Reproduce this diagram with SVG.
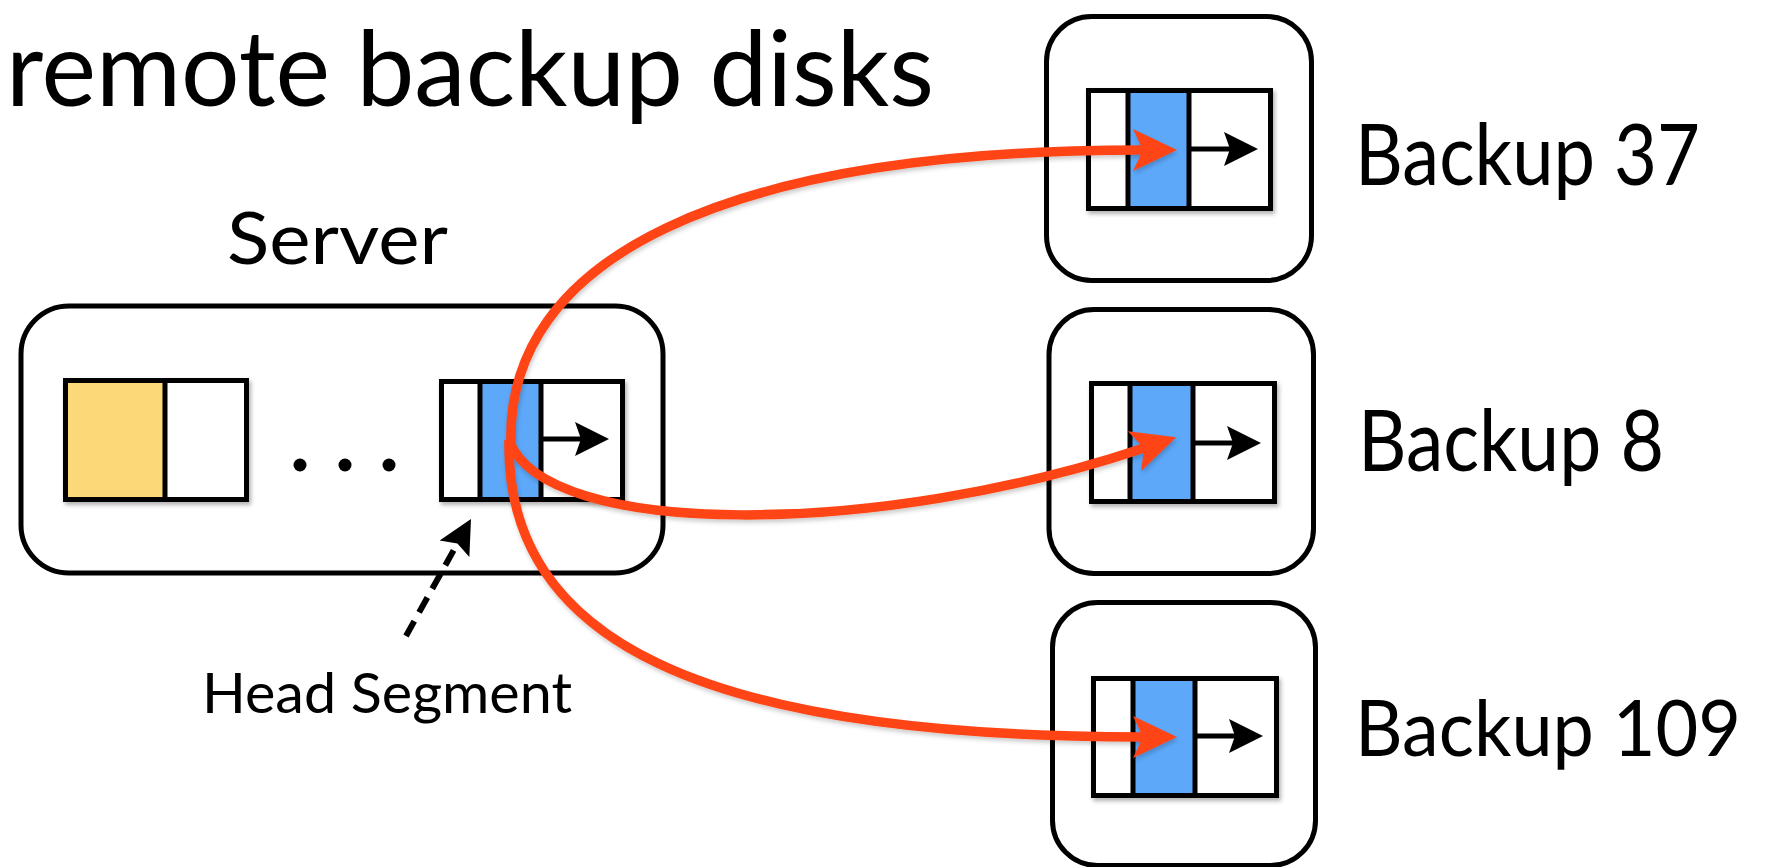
<svg xmlns="http://www.w3.org/2000/svg" width="1771" height="867" viewBox="0 0 1771 867">
  <style>
    .txt { font-family: Lato, "Open Sans", "Liberation Sans", sans-serif; fill: #000; }
    .box { fill: #fff; stroke: #000; stroke-width: 5; }
    .seg { fill: #fff; stroke: #000; stroke-width: 5; }
    .div { stroke: #000; stroke-width: 5; }
    .blue { fill: #5DA8F9; }
    .yellow { fill: #FDD879; }
    .ptr { stroke: #000; stroke-width: 5; fill: none; }
    .red { stroke: #FF4416; stroke-width: 9.5; fill: none; }
    .dash { stroke: #000; stroke-width: 6; fill: none; stroke-dasharray: 17 10; }
  </style>
  <defs>
    <filter id="sh" x="-10%" y="-10%" width="125%" height="130%">
      <feDropShadow dx="2" dy="3" stdDeviation="2" flood-color="#000" flood-opacity="0.3"/>
    </filter>
    <filter id="shr" x="-10%" y="-10%" width="125%" height="130%">
      <feDropShadow dx="1" dy="3" stdDeviation="2" flood-color="#000" flood-opacity="0.2"/>
    </filter>
    <marker id="redhead" markerUnits="userSpaceOnUse" viewBox="-2 -23 48 46" markerWidth="48" markerHeight="46" refX="10" refY="0" orient="auto">
      <path d="M0,-21 L44,0 L0,21 L10,0 Z" fill="#FF4416"/>
    </marker>
    <marker id="blackhead" markerUnits="userSpaceOnUse" viewBox="-2 -19 40 38" markerWidth="40" markerHeight="38" refX="6" refY="0" orient="auto">
      <path d="M0,-17 L34,0 L0,17 L6,0 Z" fill="#000"/>
    </marker>
  </defs>

  <rect width="1771" height="867" fill="#fff"/>

  <text id="title" class="txt" x="6" y="106" font-size="105" textLength="928" lengthAdjust="spacingAndGlyphs">remote backup disks</text>

  <g id="server">
    <text class="txt" x="227" y="264" font-size="71" textLength="221" lengthAdjust="spacingAndGlyphs">Server</text>
    <rect class="box" x="21" y="306" width="642" height="267" rx="48"/>
    <g filter="url(#sh)">
      <rect class="seg" x="65.5" y="380.5" width="181" height="119"/>
      <rect class="yellow" x="65.5" y="380.5" width="99.5" height="119"/>
      <rect x="65.5" y="380.5" width="181" height="119" fill="none" stroke="#000" stroke-width="5"/>
      <line class="div" x1="165" y1="380.5" x2="165" y2="499.5"/>
    </g>
    <circle cx="300" cy="465" r="6.5" fill="#000"/>
    <circle cx="345" cy="465" r="6.5" fill="#000"/>
    <circle cx="389" cy="465" r="6.5" fill="#000"/>
    <g id="head-segment" filter="url(#sh)">
      <rect class="seg" x="441.5" y="381.5" width="181" height="118"/>
      <rect class="blue" x="480" y="381.5" width="61" height="118"/>
      <rect x="441.5" y="381.5" width="181" height="118" fill="none" stroke="#000" stroke-width="5"/>
      <line class="div" x1="480" y1="381.5" x2="480" y2="499.5"/>
      <line class="div" x1="541" y1="381.5" x2="541" y2="499.5"/>
    </g>
    <line class="ptr" x1="543" y1="439" x2="581" y2="439" marker-end="url(#blackhead)"/>
  </g>

  <g id="backup37">
    <rect class="box" x="1046.5" y="16.5" width="265" height="264" rx="45"/>
    <g filter="url(#sh)">
      <rect class="seg" x="1088.5" y="90.5" width="182" height="118"/>
      <rect class="blue" x="1128" y="90.5" width="61" height="118"/>
      <rect x="1088.5" y="90.5" width="182" height="118" fill="none" stroke="#000" stroke-width="5"/>
      <line class="div" x1="1128" y1="90.5" x2="1128" y2="208.5"/>
      <line class="div" x1="1189" y1="90.5" x2="1189" y2="208.5"/>
    </g>
    <line class="ptr" x1="1191" y1="149" x2="1230" y2="149" marker-end="url(#blackhead)"/>
    <text class="txt" x="1355" y="185" font-size="85" textLength="345" lengthAdjust="spacingAndGlyphs">Backup 37</text>
  </g>

  <g id="backup8">
    <rect class="box" x="1049" y="309.5" width="264.5" height="264" rx="45"/>
    <g filter="url(#sh)">
      <rect class="seg" x="1091.5" y="383.5" width="183" height="118"/>
      <rect class="blue" x="1130" y="383.5" width="63" height="118"/>
      <rect x="1091.5" y="383.5" width="183" height="118" fill="none" stroke="#000" stroke-width="5"/>
      <line class="div" x1="1130" y1="383.5" x2="1130" y2="501.5"/>
      <line class="div" x1="1193" y1="383.5" x2="1193" y2="501.5"/>
    </g>
    <line class="ptr" x1="1195" y1="443" x2="1233" y2="443" marker-end="url(#blackhead)"/>
    <text class="txt" x="1358" y="471" font-size="85" textLength="306" lengthAdjust="spacingAndGlyphs">Backup 8</text>
  </g>

  <g id="backup109">
    <rect class="box" x="1052.5" y="602.5" width="263" height="263" rx="45"/>
    <g filter="url(#sh)">
      <rect class="seg" x="1093.5" y="678.5" width="183" height="117"/>
      <rect class="blue" x="1133" y="678.5" width="62" height="117"/>
      <rect x="1093.5" y="678.5" width="183" height="117" fill="none" stroke="#000" stroke-width="5"/>
      <line class="div" x1="1133" y1="678.5" x2="1133" y2="795.5"/>
      <line class="div" x1="1195" y1="678.5" x2="1195" y2="795.5"/>
    </g>
    <line class="ptr" x1="1197" y1="736" x2="1235" y2="736" marker-end="url(#blackhead)"/>
    <text class="txt" x="1355" y="756" font-size="77" textLength="386" lengthAdjust="spacingAndGlyphs">Backup 109</text>
  </g>

  <g id="connectors">
    <g filter="url(#shr)">
      <path class="red" d="M511,444 C505,260 720,150 1143,150" marker-end="url(#redhead)"/>
      <path class="red" d="M509,440 C545,540 880,537 1144,448" marker-end="url(#redhead)"/>
      <path class="red" d="M509,440 C505,640 700,737 1143,737" marker-end="url(#redhead)"/>
    </g>
    <path class="dash" d="M406,636 L457.4,543.5" marker-end="url(#blackhead)"/>
  </g>

  <text id="head-segment-label" class="txt" x="202" y="713" font-size="57" textLength="370" lengthAdjust="spacingAndGlyphs">Head Segment</text>
</svg>
